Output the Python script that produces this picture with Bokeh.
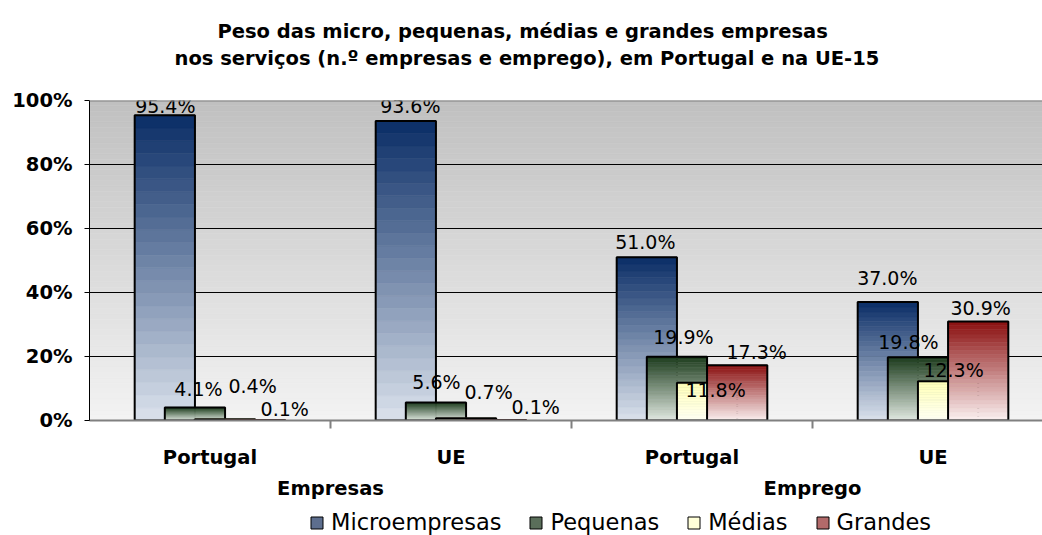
from bokeh.plotting import figure
from bokeh.layouts import column
from bokeh.models import (Range1d, FixedTicker, PrintfTickFormatter, LinearAxis, Span,
                          ColumnDataSource, Legend, LegendItem, Title)
from bokeh.core.properties import value
from bokeh.embed import file_html
from bokeh.resources import INLINE

# ---------------- data ----------------
title_lines = ["Peso das micro, pequenas, médias e grandes empresas",
               "nos serviços (n.º empresas e emprego), em Portugal e na UE-15"]
categories = ["Portugal", "UE", "Portugal", "UE"]
groups = ["Empresas", "Emprego"]
series = ["Microempresas", "Pequenas", "Médias", "Grandes"]
micro = [95.4, 93.6, 51.0, 37.0]
pequenas = [4.1, 5.6, 19.9, 19.8]
medias = [0.4, 0.7, 11.8, 12.3]
grandes = [0.1, 0.1, 17.3, 30.9]
y_ticks = [0, 20, 40, 60, 80, 100]

# ---------------- styles ----------------
FONT = "DejaVu Sans"
top_colors = ["#0a2d66", "#1c3b1c", "#ffffb8", "#8a0f0f"]
bottom_colors = ["#dbe2ec", "#e2eae2", "#fffff4", "#fbf1f1"]
legend_colors = ["#5d6e8e", "#5a6e5a", "#ffffd8", "#b26a6a"]
# label offsets in pixels (dx right, dy up from bar top to text baseline), per series per category
label_dx = [[0.5, 4.5, -1.5, -0.5], [3.5, 0.5, 6.5, -9.5],
            [27.5, 22.5, 8.5, 5.5], [29.5, 39.5, 19.5, 2.5]]
label_dy = [[2.5, 8.5, 8.8, 17.6], [12, 14, 13.3, 8.6],
            [26.7, 19, -13.8, 4.6], [4.7, 6.7, 6.6, 7.1]]
HALF_CAP = 6.8  # from text baseline to vertical middle of the digits
NB = 24
BAR_W = 0.25
STEP = 0.125
W = 1042
H_MAIN = 508
H_LEG = 27


def hex2rgb(h):
    h = h.lstrip("#")
    return [int(h[i:i + 2], 16) for i in (0, 2, 4)]


def mix(c0, c1, t):
    a, b = hex2rgb(c0), hex2rgb(c1)
    return "#%02x%02x%02x" % tuple(int(round(a[i] + (b[i] - a[i]) * t)) for i in range(3))


FRAME_W = 953
CAT_PX = 241
p = figure(width=W, height=H_MAIN, x_range=Range1d(0, FRAME_W / CAT_PX), y_range=Range1d(0, 100),
           output_backend="svg", toolbar_location=None,
           min_border_left=89, min_border_right=0, min_border_top=100, min_border_bottom=88)
p.outline_line_color = None
p.background_fill_color = "white"
p.border_fill_color = "white"

# background gradient of plot area
NBG = 60
bg = dict(left=[], right=[], bottom=[], top=[], color=[])
for i in range(NBG):
    bg["left"].append(0)
    bg["right"].append(4)
    bg["bottom"].append(100 * i / NBG)
    bg["top"].append(100 * (i + 1) / NBG)
    bg["color"].append(mix("#f3f3f3", "#c0c0c0", (i + 0.5) / NBG))
p.quad(left="left", right="right", bottom="bottom", top="top", color="color",
       line_width=0.6, source=ColumnDataSource(bg), level="image")

# bars
all_vals = [micro, pequenas, medias, grandes]
for k, vals in enumerate(all_vals):
    d = dict(left=[], right=[], bottom=[], top=[], color=[])
    o = dict(left=[], right=[], top=[])
    for g, v in enumerate(vals):
        xc = g + 0.5 + (k - 1.5) * STEP
        for i in range(NB):
            d["left"].append(xc - BAR_W / 2)
            d["right"].append(xc + BAR_W / 2)
            d["bottom"].append(v * i / NB)
            d["top"].append(v * (i + 1) / NB)
            d["color"].append(mix(bottom_colors[k], top_colors[k], (i + 0.5) / NB))
        o["left"].append(xc - BAR_W / 2)
        o["right"].append(xc + BAR_W / 2)
        o["top"].append(v)
    p.quad(left="left", right="right", bottom="bottom", top="top", fill_color="color",
           line_color="color", line_width=0.5, source=ColumnDataSource(d))
    p.quad(left="left", right="right", bottom=0, top="top", fill_color=None,
           line_color="black", line_width=2, source=ColumnDataSource(o))

# value labels
for k, vals in enumerate(all_vals):
    xs = [g + 0.5 + (k - 1.5) * STEP for g in range(len(vals))]
    src = ColumnDataSource(dict(x=xs, y=vals, t=["%.1f%%" % v for v in vals],
                                dx=label_dx[k], dy=[-(d + HALF_CAP) for d in label_dy[k]]))
    p.text(x="x", y="y", text="t", x_offset="dx", y_offset="dy", source=src,
           text_font=value(FONT), text_font_size="19px", text_color="#000000",
           text_align="center", text_baseline="middle")

# grid
p.xgrid.visible = False
p.ygrid.ticker = FixedTicker(ticks=y_ticks[1:-1])
p.ygrid.grid_line_color = "black"
p.ygrid.grid_line_width = 1
p.add_layout(Span(location=100, dimension="width", line_color="#808080", line_width=2))

# y axis
ya = p.yaxis[0]
ya.ticker = FixedTicker(ticks=y_ticks)
ya.formatter = PrintfTickFormatter(format="%d%%")
ya.axis_line_color = "black"
ya.major_tick_line_color = "black"
ya.major_tick_out = 5
ya.major_tick_in = 0
ya.minor_tick_line_color = None
ya.major_label_standoff = 12
ya.major_label_text_font = FONT
ya.major_label_text_font_size = "19.5px"
ya.major_label_text_font_style = "bold"
ya.major_label_text_color = "black"

# x axis (categories)
xa = p.xaxis[0]
centers = [g + 0.5 for g in range(len(categories))]
xa.ticker = FixedTicker(ticks=centers, minor_ticks=[1, 2, 3])
xa.major_label_overrides = {c: n for c, n in zip(centers, categories)}
xa.axis_line_color = "#808080"
xa.axis_line_width = 2
xa.major_tick_line_color = None
xa.major_tick_out = 0
xa.major_tick_in = 0
xa.minor_tick_line_color = "#808080"
xa.minor_tick_line_width = 2
xa.minor_tick_out = 8
xa.minor_tick_in = 0
xa.major_label_standoff = 17
xa.major_label_text_font = FONT
xa.major_label_text_font_size = "19.5px"
xa.major_label_text_font_style = "bold"
xa.major_label_text_color = "black"

ga = LinearAxis(ticker=FixedTicker(ticks=[1, 3], minor_ticks=[]),
                major_label_overrides={1: groups[0], 3: groups[1]})
ga.axis_line_color = None
ga.major_tick_line_color = None
ga.minor_tick_line_color = None
ga.major_tick_out = 0
ga.major_tick_in = 0
ga.major_label_standoff = 5
ga.major_label_text_font = FONT
ga.major_label_text_font_size = "19.5px"
ga.major_label_text_font_style = "bold"
ga.major_label_text_color = "black"
p.add_layout(ga, "below")

# title (spacer, second line, first line: stacked outward from the plot area)
tsp = Title(text=" ", align="left", text_font=FONT, text_font_size="19.5px", standoff=6)
t2 = Title(text=title_lines[1], align="left", offset=85, text_font=FONT, text_font_size="19.5px",
           text_font_style="bold", text_color="black", standoff=0)
t1 = Title(text=title_lines[0], align="left", offset=128, text_font=FONT, text_font_size="19.5px",
           text_font_style="bold", text_color="black", standoff=4)
p.add_layout(tsp, "above")
p.add_layout(t2, "above")
p.add_layout(t1, "above")

# legend strip below the chart (its frame is aligned with the chart's frame)
L = figure(width=W, height=H_LEG, x_range=Range1d(0, 1), y_range=Range1d(0, 1),
           x_axis_type=None, y_axis_type=None, output_backend="svg", toolbar_location=None,
           min_border=0)
L.outline_line_color = None
L.grid.visible = False
L.background_fill_color = "white"
L.border_fill_color = "white"
items = []
for k, name in enumerate(series):
    proxy = L.quad(left=[0], right=[1], bottom=[0], top=[1], fill_color=legend_colors[k],
                   line_color="black", line_width=1, visible=False)
    items.append(LegendItem(label=name, renderers=[proxy]))
legend = Legend(items=items, location=(220, 0), orientation="horizontal",
                glyph_width=15, glyph_height=15, label_standoff=7, spacing=27,
                padding=0, margin=0, border_line_color=None, background_fill_alpha=0,
                label_text_font=FONT, label_text_font_size="22.5px",
                label_text_color="black", label_height=20, click_policy="none")
L.add_layout(legend)

open("out.html", "w").write(file_html(column(p, L), INLINE))
